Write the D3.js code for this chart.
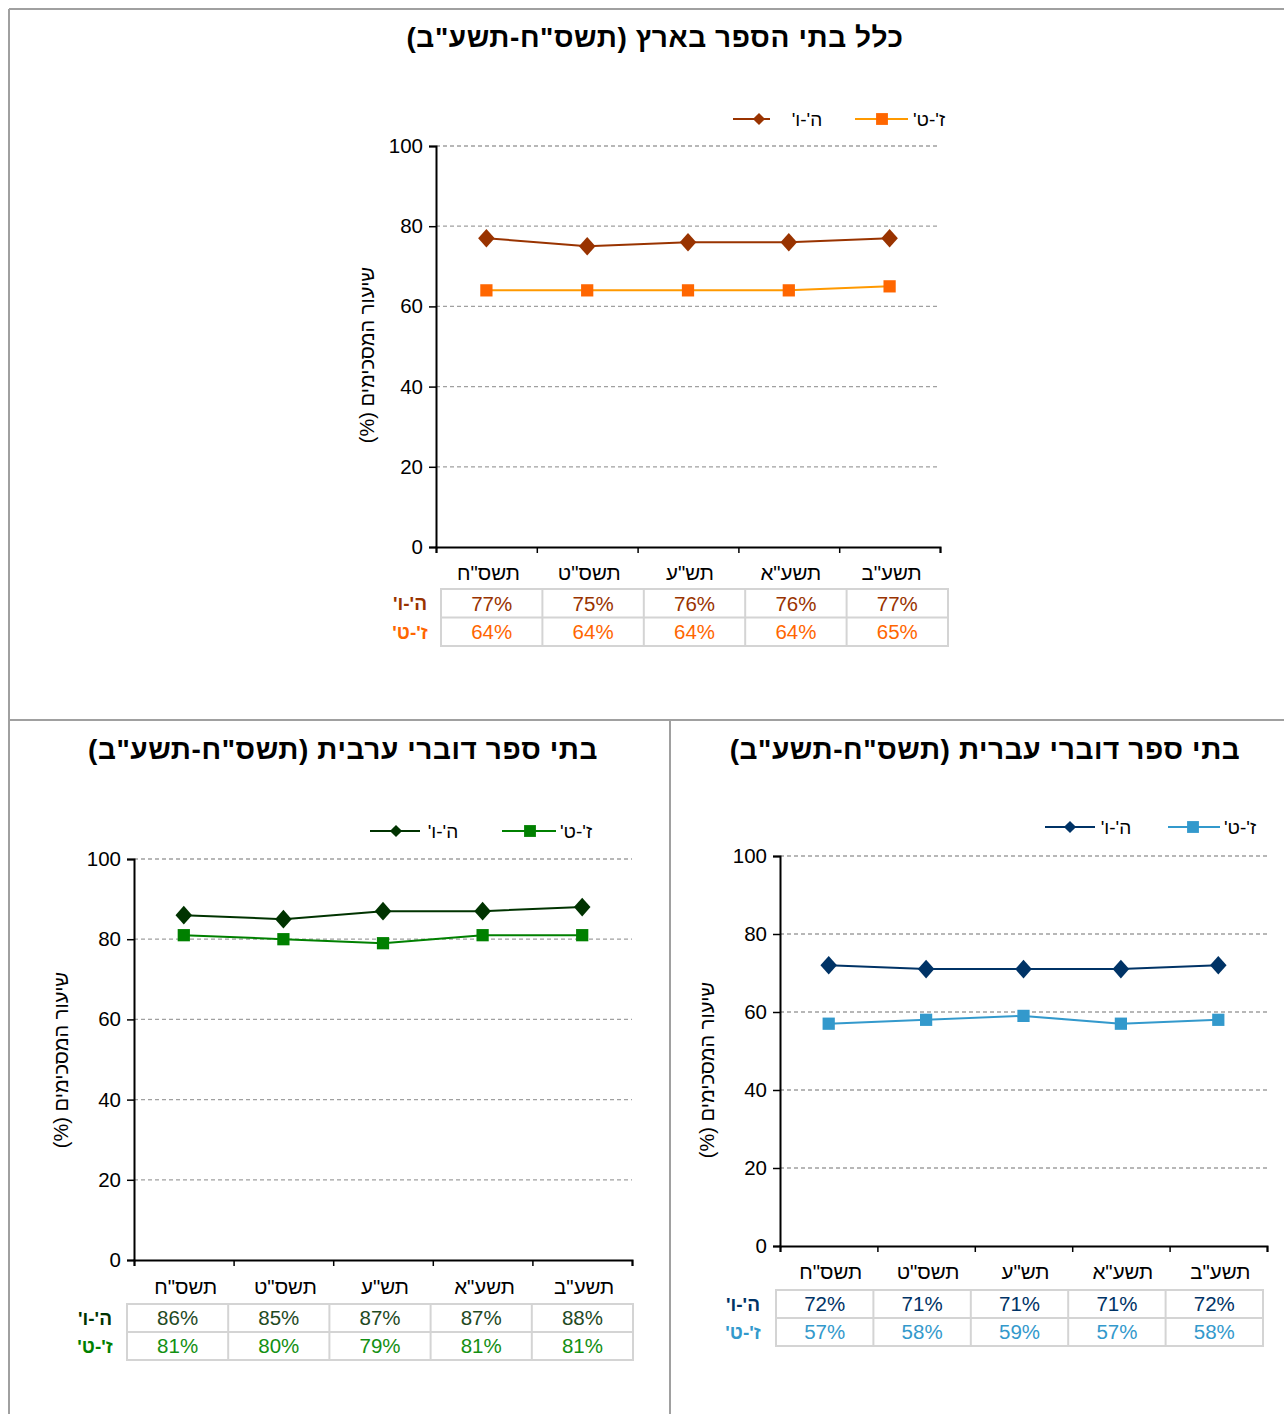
<!DOCTYPE html>
<html><head><meta charset="utf-8">
<script src="https://cdn.jsdelivr.net/npm/d3@7"></script>
<style>
html,body{margin:0;padding:0;background:#fff;}
svg text{font-family:Arial,"Liberation Sans",sans-serif;}
</style></head>
<body>
<svg id="c" width="1284" height="1414"></svg>
<script>
// ---- data ----
const categories = ["תשס\"ח","תשס\"ט","תש\"ע","תשע\"א","תשע\"ב"];
const seriesNames = ["ה'-ו'","ז'-ט'"];
const yTicks = [0,20,40,60,80,100];
const allSchools56 = [77,75,76,76,77];
const allSchools79 = [64,64,64,64,65];
const arabic56 = [86,85,87,87,88];
const arabic79 = [81,80,79,81,81];
const hebrew56 = [72,71,71,71,72];
const hebrew79 = [57,58,59,57,58];
const titles = ["כלל בתי הספר בארץ (תשס\"ח-תשע\"ב)","בתי ספר דוברי ערבית (תשס\"ח-תשע\"ב)","בתי ספר דוברי עברית (תשס\"ח-תשע\"ב)"];
const yTitle = "שיעור המסכימים (%)";

// ---- layout ----
const charts = [
 {title:titles[0], s1:allSchools56, s2:allSchools79,
  c1:"#993300", c2line:"#FF9900", c2:"#FF6600", t1:"#993300", t2:"#FF6600",
  px0:436, px1:940, py0:146, py1:547, tx:655, ty:47,
  ly:119, leg:[{l0:733,l1:770,m:759,t:807},{l0:855,l1:908,m:882,t:929}],
  yl:{x:367,y:355}, catY:580, tab:{x0:441,x1:948,y0:589,h:28.5}, rowLab:410},
 {title:titles[1], s1:arabic56, s2:arabic79,
  c1:"#003300", c2line:"#008000", c2:"#008000", t1:"#1f4a1f", t2:"#139013",
  px0:134, px1:632, py0:859, py1:1260, tx:343, ty:759,
  ly:831, leg:[{l0:370,l1:420,m:396,t:443},{l0:502,l1:556,m:530,t:576}],
  yl:{x:61,y:1060}, catY:1294, tab:{x0:127,x1:633,y0:1304,h:28}, rowLab:95},
 {title:titles[2], s1:hebrew56, s2:hebrew79,
  c1:"#003366", c2line:"#3399CC", c2:"#3399CC", t1:"#003366", t2:"#3399CC",
  px0:780, px1:1267, py0:856, py1:1246, tx:985, ty:759,
  ly:827, leg:[{l0:1045,l1:1095,m:1070,t:1116},{l0:1168,l1:1220,m:1193,t:1240}],
  yl:{x:707,y:1070}, catY:1279, tab:{x0:776,x1:1263,y0:1290,h:28}, rowLab:743}
];

const svg = d3.select("#c");

// frame
const frame = svg.append("g").attr("stroke","#a0a0a0").attr("stroke-width",2);
frame.append("line").attr("x1",9).attr("y1",9).attr("x2",1284).attr("y2",9);
frame.append("line").attr("x1",9).attr("y1",9).attr("x2",9).attr("y2",1414);
frame.append("line").attr("x1",9).attr("y1",720).attr("x2",1284).attr("y2",720);
frame.append("line").attr("x1",670).attr("y1",720).attr("x2",670).attr("y2",1414);

const diamond = d3.symbol().type(d3.symbolDiamond2).size(175);
const square = d3.symbol().type(d3.symbolSquare).size(150);

charts.forEach(ch => {
  const g = svg.append("g");
  const y = d3.scaleLinear().domain([0,100]).range([ch.py1, ch.py0]);
  const xb = d3.scaleBand().domain(categories).range([ch.px0, ch.px1]);
  const xe = d3.scaleLinear().domain([0,categories.length]).range([ch.px0, ch.px1]);
  const xc = c => xb(c) + xb.bandwidth()/2;

  // title
  g.append("text").attr("x",ch.tx).attr("y",ch.ty).attr("text-anchor","middle")
    .attr("direction","rtl").attr("font-size",28).attr("font-weight","bold")
    .attr("letter-spacing",0.6).attr("fill","#000").text(ch.title);

  // gridlines
  g.append("g").selectAll("line").data(yTicks.filter(v=>v>0)).join("line")
    .attr("x1",ch.px0).attr("x2",ch.px1).attr("y1",d=>y(d)).attr("y2",d=>y(d))
    .attr("stroke","#a0a0a0").attr("stroke-width",1.3).attr("stroke-dasharray","4,3");

  // y axis
  const ya = g.append("g").attr("transform",`translate(${ch.px0},0)`)
    .call(d3.axisLeft(y).tickValues(yTicks).tickSize(7).tickPadding(6));
  ya.select(".domain").attr("stroke","#000").attr("stroke-width",2);
  ya.selectAll(".tick line").attr("stroke","#000").attr("stroke-width",1.5);
  ya.selectAll(".tick text").attr("font-size",20.5).attr("fill","#000")
    .attr("font-family","Arial, 'Liberation Sans', sans-serif");

  // x axis
  const xa = g.append("g").attr("transform",`translate(0,${ch.py1})`)
    .call(d3.axisBottom(xe).tickValues(d3.range(categories.length+1)).tickFormat("").tickSize(6).tickSizeOuter(6));
  xa.select(".domain").attr("stroke","#000").attr("stroke-width",2);
  xa.selectAll(".tick line").attr("stroke","#000").attr("stroke-width",1.5);

  // category labels
  g.append("g").selectAll("text").data(categories).join("text")
    .attr("x",d=>xc(d)+2).attr("y",ch.catY).attr("text-anchor","middle")
    .attr("direction","rtl").attr("font-size",20.5).attr("fill","#000").text(d=>d);

  // y title
  g.append("text").attr("transform",`translate(${ch.yl.x},${ch.yl.y}) rotate(-90)`)
    .attr("text-anchor","middle").attr("direction","rtl").attr("dy","0.35em")
    .attr("font-size",20).attr("fill","#000").text(yTitle);

  // lines
  const line = d3.line().x((d,i)=>xc(categories[i])).y(d=>y(d));
  g.append("path").datum(ch.s2).attr("d",line).attr("fill","none")
    .attr("stroke",ch.c2line).attr("stroke-width",2);
  g.append("path").datum(ch.s1).attr("d",line).attr("fill","none")
    .attr("stroke",ch.c1).attr("stroke-width",2);
  g.append("g").selectAll("path").data(ch.s2).join("path")
    .attr("d",square).attr("fill",ch.c2)
    .attr("transform",(d,i)=>`translate(${xc(categories[i])},${y(d)})`);
  g.append("g").selectAll("path").data(ch.s1).join("path")
    .attr("d",diamond).attr("fill",ch.c1)
    .attr("transform",(d,i)=>`translate(${xc(categories[i])},${y(d)}) scale(1,1.12)`);

  // legend
  const legCols = [ch.c1, ch.c2line];
  const legMk = [ch.c1, ch.c2];
  ch.leg.forEach((L,k) => {
    g.append("line").attr("x1",L.l0).attr("x2",L.l1).attr("y1",ch.ly).attr("y2",ch.ly)
      .attr("stroke",legCols[k]).attr("stroke-width",2);
    g.append("path").attr("d", k===0 ? d3.symbol().type(d3.symbolDiamond2).size(95)() : d3.symbol().type(d3.symbolSquare).size(140)())
      .attr("fill",legMk[k]).attr("transform",`translate(${L.m},${ch.ly})`);
    g.append("text").attr("x",L.t).attr("y",ch.ly).attr("dy","0.35em")
      .attr("text-anchor","middle").attr("direction","rtl").attr("font-size",19)
      .attr("fill","#000").text(seriesNames[k]);
  });

  // data table
  const tb = d3.scaleBand().domain(categories).range([ch.tab.x0, ch.tab.x1]);
  const T = ch.tab;
  const tg = g.append("g");
  tg.append("rect").attr("x",T.x0).attr("y",T.y0).attr("width",T.x1-T.x0).attr("height",2*T.h)
    .attr("fill","none").attr("stroke","#d4d4d4").attr("stroke-width",2);
  tg.append("line").attr("x1",T.x0).attr("x2",T.x1).attr("y1",T.y0+T.h).attr("y2",T.y0+T.h)
    .attr("stroke","#d4d4d4").attr("stroke-width",2);
  tg.selectAll("line.v").data(categories.slice(1)).join("line").attr("class","v")
    .attr("x1",d=>tb(d)).attr("x2",d=>tb(d)).attr("y1",T.y0).attr("y2",T.y0+2*T.h)
    .attr("stroke","#d4d4d4").attr("stroke-width",2);
  [[ch.s1,ch.t1],[ch.s2,ch.t2]].forEach(([s,col],r) => {
    tg.append("g").selectAll("text").data(s).join("text")
      .attr("x",(d,i)=>tb(categories[i])+tb.bandwidth()/2)
      .attr("y",T.y0+T.h*r+T.h/2).attr("dy","0.36em")
      .attr("text-anchor","middle").attr("font-size",20.5).attr("fill",col)
      .text(d=>d+"%");
    tg.append("text").attr("x",ch.rowLab).attr("y",T.y0+T.h*r+T.h/2).attr("dy","0.36em")
      .attr("text-anchor","middle").attr("direction","rtl").attr("font-size",19)
      .attr("font-weight","bold").attr("fill", r===0?ch.c1:ch.c2).text(seriesNames[r]);
  });
});
</script>
</body></html>
